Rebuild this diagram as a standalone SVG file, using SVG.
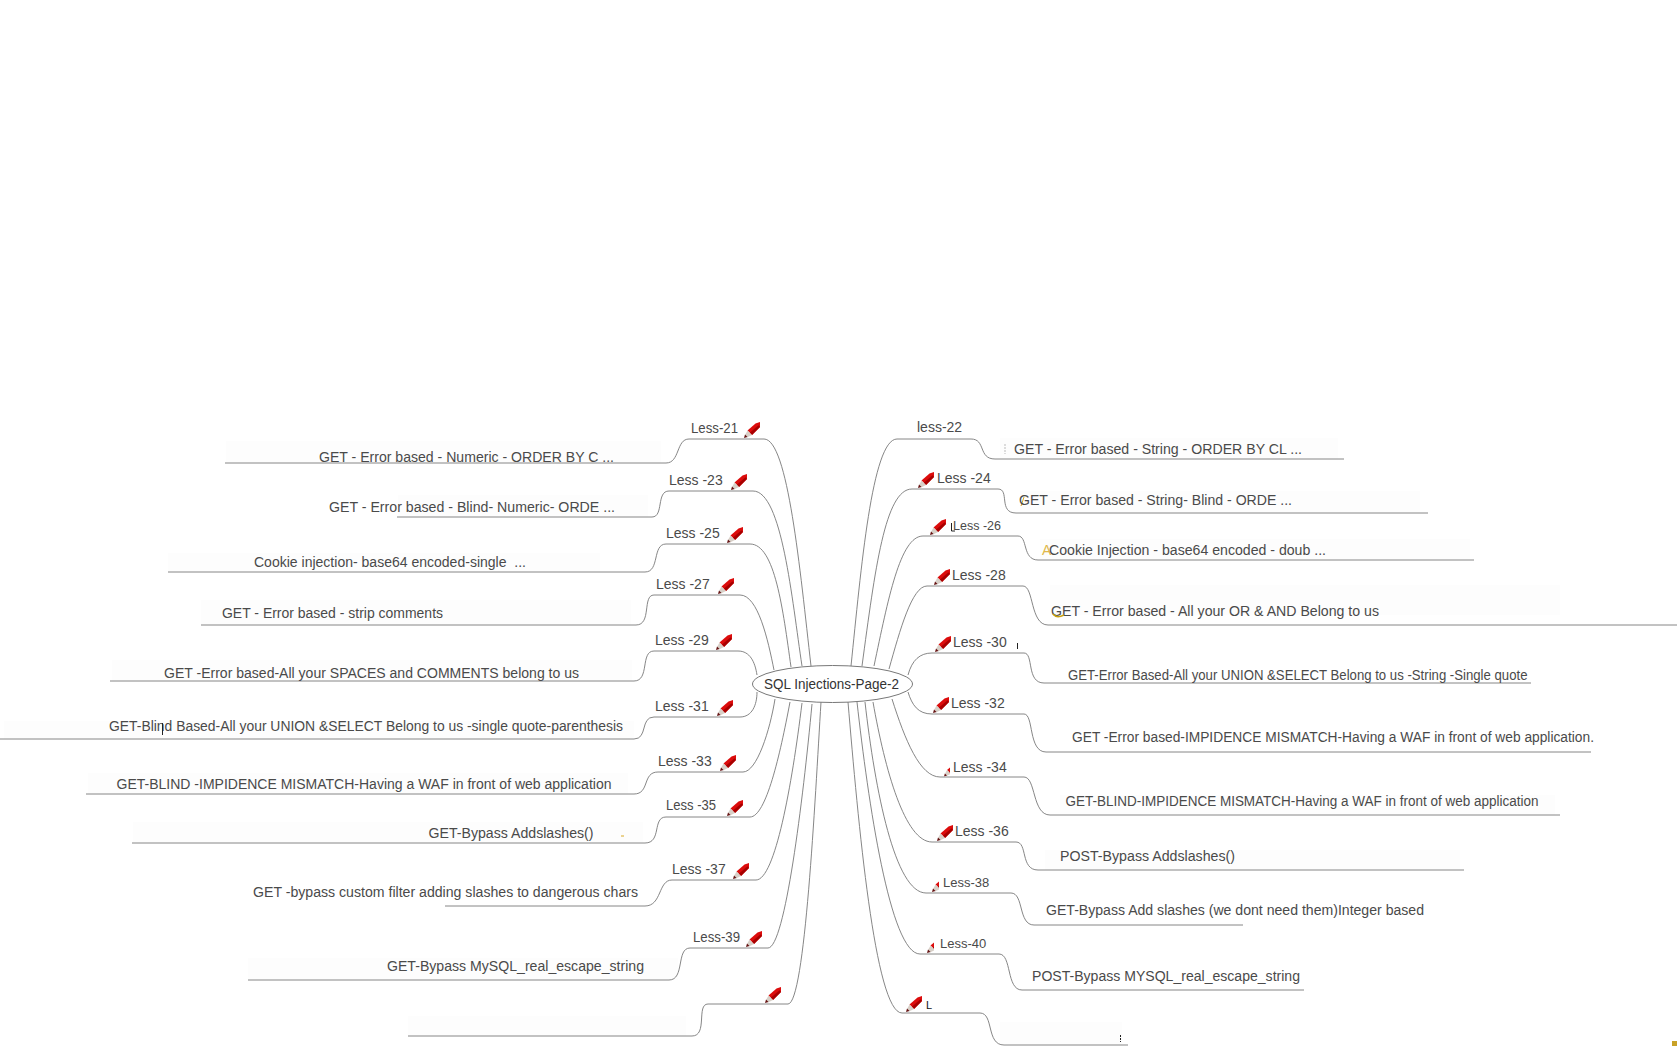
<svg xmlns="http://www.w3.org/2000/svg" width="1677" height="1046" viewBox="0 0 1677 1046">
<style>
text{font-family:"Liberation Sans",Arial,sans-serif;font-size:14px;fill:#4a4a4a}
.c{fill:none;stroke:#787878;stroke-width:.9}
.h{fill:#fdfdfd}
.t{fill:none;stroke:#222;stroke-width:1}
.g{fill:none;stroke:#d8a824;stroke-width:1}
</style>
<defs>
<g id="pg">
<polygon points="3.500,8.500 11.500,1.500 16,0 16,5 8,13" fill="#dc0c0c"/>
<polygon points="5.800,10.800 14.500,3.200 16,5 8,13" fill="#a80000"/>
<polygon points="1,13 3.500,8.500 8,13 3,15.500" fill="#d8d0c8"/>
<polygon points="0,16 1,12.500 3.500,15" fill="#641010"/>
</g>
<symbol id="pencil" viewBox="0 0 16 16"><use href="#pg"/></symbol>
<symbol id="stub" viewBox="0 5 7 11"><use href="#pg"/></symbol>
</defs>
<rect width="1677" height="1046" fill="#fff"/>
<g id="backgrounds">
<rect class="h" x="226" y="441" width="435" height="22"/>
<rect class="h" x="398" y="495" width="250" height="22"/>
<rect class="h" x="168" y="553" width="432" height="19"/>
<rect class="h" x="201" y="600" width="430" height="25"/>
<rect class="h" x="112" y="660" width="520" height="21"/>
<rect class="h" x="4" y="721" width="630" height="18"/>
<rect class="h" x="88" y="773" width="540" height="21"/>
<rect class="h" x="133" y="822" width="510" height="21"/>
<rect class="h" x="248" y="958" width="430" height="22"/>
<rect class="h" x="408" y="1016" width="278" height="20"/>
<rect class="h" x="1000" y="438" width="338" height="21"/>
<rect class="h" x="1020" y="491" width="400" height="22"/>
<rect class="h" x="1040" y="539" width="430" height="21"/>
<rect class="h" x="1050" y="585" width="510" height="30"/>
<rect class="h" x="1060" y="795" width="495" height="20"/>
<rect class="h" x="1045" y="850" width="415" height="20"/>
<rect class="h" x="1000" y="1022" width="122" height="23"/>
</g>
<g id="connectors">
<path class="c" d="M225 463H666C680 463 676 439 689 439H764C788 439 800 570 811 666"/>
<path class="c" d="M397 517H652C664 517 656 491 669 491H753C782 491 792 600 802 666"/>
<path class="c" d="M168 572H645C660 572 652 544 666 544H750C775 544 783 610 791 667"/>
<path class="c" d="M201 625H636C652 625 642 595 654 595H740C758 595 768 640 774 670"/>
<path class="c" d="M110 681H634C650 681 640 651 654 651H738C750 651 755 662 757 675"/>
<path class="c" d="M0 739H634C648 739 640 717 654 717H740C752 717 757 705 757 692"/>
<path class="c" d="M86 794H634C650 794 642 772 658 772H743C757 772 770 730 775 699"/>
<path class="c" d="M132 843H645C662 843 652 817 666 817H750C766 817 780 755 790 702"/>
<path class="c" d="M445 906H645C662 906 658 880 672 880H756C775 880 792 785 802 703"/>
<path class="c" d="M248 980H669C685 980 676 948 690 948H768C785 948 803 800 812 704"/>
<path class="c" d="M408 1036H692C708 1036 696 1004 708 1004H788C805 1004 815 800 821 702"/>
<path class="c" d="M851 666C861 570 872 439 897 439H971C986 439 978 459 995 459H1344"/>
<path class="c" d="M862 666C875 570 885 489 912 489H998C1010 489 998 513 1016 513H1428"/>
<path class="c" d="M874 666C888 600 900 536 923 536H1018C1028 536 1022 560 1038 560H1474"/>
<path class="c" d="M889 669C900 630 912 586 927 586H1023C1034 586 1030 625 1048 625H1677"/>
<path class="c" d="M908 675C912 660 920 653 932 653H1024C1034 653 1026 683 1044 683H1531"/>
<path class="c" d="M908 692C912 705 918 714 932 714H1024C1034 714 1028 752 1046 752H1591"/>
<path class="c" d="M892 699C905 740 920 777 940 777H1024C1036 777 1032 815 1050 815H1560"/>
<path class="c" d="M873 702C885 770 905 842 932 842H1016C1028 842 1020 870 1038 870H1464"/>
<path class="c" d="M865 702C875 790 895 893 926 893H1011C1024 893 1018 925 1034 925H1243"/>
<path class="c" d="M857 702C868 800 890 954 920 954H999C1012 954 1006 990 1022 990H1304"/>
<path class="c" d="M848 702C858 820 875 1013 902 1013H980C994 1013 986 1045 1004 1045H1128"/>
</g>
<g id="root"><ellipse cx="832.5" cy="684" rx="80" ry="18.5" fill="#fff" stroke="#787878"/><text x="764" y="689" textLength="135" lengthAdjust="spacingAndGlyphs" style="fill:#333">SQL Injections-Page-2</text></g>
<g id="less21"><text x="691" y="432.500" textLength="47" lengthAdjust="spacingAndGlyphs">Less-21</text><use href="#pencil" x="744" y="422" width="16" height="16"/><text x="319" y="462" textLength="295" lengthAdjust="spacingAndGlyphs">GET - Error based - Numeric - ORDER BY C ...</text></g>
<g id="less23"><text x="669" y="485">Less -23</text><use href="#pencil" x="731" y="474" width="16" height="16"/><text x="329" y="512" textLength="286" lengthAdjust="spacingAndGlyphs">GET - Error based - Blind- Numeric- ORDE ...</text></g>
<g id="less25"><text x="666" y="538">Less -25</text><use href="#pencil" x="727" y="527" width="16" height="16"/><text x="254" y="567" textLength="272" lengthAdjust="spacingAndGlyphs" xml:space="preserve">Cookie injection- base64 encoded-single  ...</text></g>
<g id="less27"><text x="656" y="589">Less -27</text><use href="#pencil" x="718" y="578" width="16" height="16"/><text x="222" y="618" textLength="221" lengthAdjust="spacingAndGlyphs">GET - Error based - strip comments</text></g>
<g id="less29"><text x="655" y="645">Less -29</text><use href="#pencil" x="716" y="634" width="16" height="16"/><text x="164" y="678" textLength="415" lengthAdjust="spacingAndGlyphs">GET -Error based-All your SPACES and COMMENTS belong to us</text></g>
<g id="less31"><text x="655" y="711">Less -31</text><use href="#pencil" x="717" y="700" width="16" height="16"/><text x="109" y="731" textLength="514" lengthAdjust="spacingAndGlyphs">GET-Blind Based-All your UNION &amp;SELECT Belong to us -single quote-parenthesis</text><path class="t" d="M162.500 723V735"/></g>
<g id="less33"><text x="658" y="766">Less -33</text><use href="#pencil" x="720" y="755" width="16" height="16"/><text x="116.500" y="789" textLength="495" lengthAdjust="spacingAndGlyphs">GET-BLIND -IMPIDENCE MISMATCH-Having a WAF in front of web application</text></g>
<g id="less35"><text x="666" y="810" textLength="50" lengthAdjust="spacingAndGlyphs">Less -35</text><use href="#pencil" x="727" y="800" width="16" height="16"/><text x="428.500" y="838" textLength="165" lengthAdjust="spacingAndGlyphs">GET-Bypass Addslashes()</text><path class="g" d="M621 836H624"/></g>
<g id="less37"><text x="672" y="874">Less -37</text><use href="#pencil" x="733" y="863" width="16" height="16"/><text x="253" y="897" textLength="385" lengthAdjust="spacingAndGlyphs">GET -bypass custom filter adding slashes to dangerous chars</text></g>
<g id="less39"><text x="693" y="942" textLength="47" lengthAdjust="spacingAndGlyphs">Less-39</text><use href="#pencil" x="746" y="931" width="16" height="16"/><text x="387" y="971" textLength="257" lengthAdjust="spacingAndGlyphs">GET-Bypass MySQL_real_escape_string</text></g>
<g id="less41"><use href="#pencil" x="765" y="987" width="16" height="16"/></g>
<g id="less22"><text x="917" y="432">less-22</text><text x="1014" y="454" textLength="288" lengthAdjust="spacingAndGlyphs">GET - Error based - String - ORDER BY CL ...</text><path d="M1005 444V454" stroke="#bbb" stroke-dasharray="2 1"/></g>
<g id="less24"><use href="#pencil" x="918" y="472" width="16" height="16"/><text x="937" y="483">Less -24</text><path class="g" d="M1024 497L1021 506"/><text x="1019" y="505" textLength="273" lengthAdjust="spacingAndGlyphs">GET - Error based - String- Blind - ORDE ...</text></g>
<g id="less26"><use href="#pencil" x="930" y="519" width="16" height="16"/><path class="t" d="M951.500 523V531H955"/><text x="953" y="530" style="font-size:12.500px">Less -26</text><text x="1042" y="555" style="fill:#e0b84a">A</text><text x="1049" y="555" textLength="277" lengthAdjust="spacingAndGlyphs">Cookie Injection - base64 encoded - doub ...</text></g>
<g id="less28"><use href="#pencil" x="934" y="569" width="16" height="16"/><text x="952" y="580">Less -28</text><text x="1051" y="616" textLength="328" lengthAdjust="spacingAndGlyphs">GET - Error based - All your OR &amp; AND Belong to us</text><path class="g" d="M1053 614C1056 618 1060 617 1064 615" style="stroke:#c8a010;stroke-width:1.500"/></g>
<g id="less30"><use href="#pencil" x="935" y="636" width="16" height="16"/><text x="953" y="647">Less -30</text><path class="t" d="M1017.500 643V649"/><text x="1068" y="680" textLength="459.500" lengthAdjust="spacingAndGlyphs">GET-Error Based-All your UNION &amp;SELECT Belong to us -String -Single quote</text></g>
<g id="less32"><use href="#pencil" x="933" y="697" width="16" height="16"/><text x="951" y="708">Less -32</text><text x="1072" y="742" textLength="522" lengthAdjust="spacingAndGlyphs">GET -Error based-IMPIDENCE MISMATCH-Having a WAF in front of web application.</text></g>
<g id="less34"><use href="#stub" x="944" y="767" width="6" height="9.500"/><text x="953" y="772">Less -34</text><text x="1065.500" y="806" textLength="473" lengthAdjust="spacingAndGlyphs">GET-BLIND-IMPIDENCE MISMATCH-Having a WAF in front of web application</text></g>
<g id="less36"><use href="#pencil" x="937" y="825" width="16" height="16"/><text x="955" y="836">Less -36</text><text x="1060" y="861" textLength="175" lengthAdjust="spacingAndGlyphs">POST-Bypass Addslashes()</text></g>
<g id="less38"><use href="#stub" x="932" y="881" width="7" height="11"/><text x="943" y="887" style="font-size:13px">Less-38</text><text x="1046" y="915" textLength="378" lengthAdjust="spacingAndGlyphs">GET-Bypass Add slashes (we dont need them)Integer based</text></g>
<g id="less40"><use href="#stub" x="927" y="942" width="7" height="11"/><text x="940" y="948" style="font-size:13px">Less-40</text><text x="1032" y="981" textLength="268" lengthAdjust="spacingAndGlyphs">POST-Bypass MYSQL_real_escape_string</text></g>
<g id="less42"><use href="#pencil" x="906" y="996" width="16" height="16"/><text x="926" y="1009" style="font-size:11px;fill:#111">L</text><path d="M1120.500 1035V1042" stroke="#222" stroke-dasharray="2 1"/></g>
<rect x="1672" y="1041" width="5" height="5" fill="#c9a227"/>
</svg>
